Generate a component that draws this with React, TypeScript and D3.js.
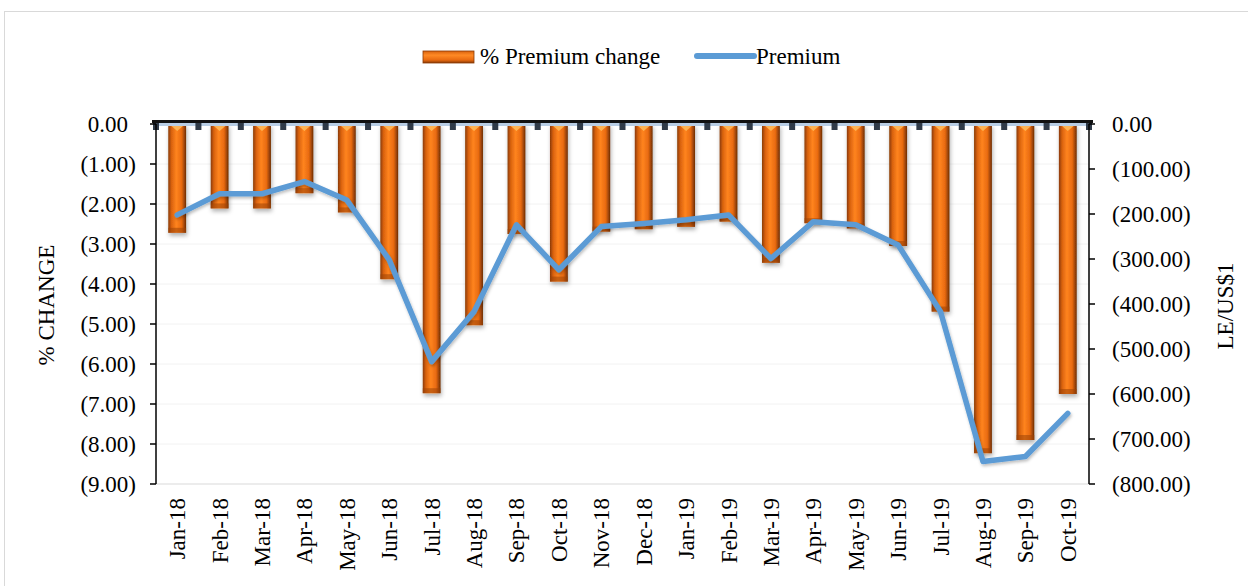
import React from 'react';
import * as d3 from 'd3';

const months = ['Jan-18', 'Feb-18', 'Mar-18', 'Apr-18', 'May-18', 'Jun-18', 'Jul-18', 'Aug-18', 'Sep-18', 'Oct-18', 'Nov-18', 'Dec-18',
    'Jan-19', 'Feb-19', 'Mar-19', 'Apr-19', 'May-19', 'Jun-19', 'Jul-19', 'Aug-19', 'Sep-19', 'Oct-19'];
// % premium change (bars, left axis)
const pctChange = [-2.72, -2.11, -2.11, -1.73, -2.21, -3.88, -6.73, -5.03, -2.75, -3.94, -2.69, -2.63,
    -2.57, -2.44, -3.47, -2.48, -2.61, -3.05, -4.69, -8.23, -7.9, -6.75];
// premium LE/US$1 (line, right axis)
const premium = [-202, -155, -155, -128, -169, -302, -528, -417, -224, -324, -228, -221,
    -213, -202, -299, -217, -224, -269, -417, -750, -739, -643];
const leftTicks = [0, -1, -2, -3, -4, -5, -6, -7, -8, -9];
const rightTicks = [0, -100, -200, -300, -400, -500, -600, -700, -800];

const W = 1248, H = 586;
const FONT = '"Liberation Serif", "Times New Roman", serif';

const fmt = (v: number) => (v < 0 ? `(${Math.abs(v).toFixed(2)})` : v.toFixed(2));

export default function App() {
    const left = 156, right = 1089, top = 124, bottom = 484;

    const x = d3.scaleBand<string>().domain(months).range([left, right]).paddingInner(0.58).paddingOuter(0.29);
    const step = x.step();
    const yL = d3.scaleLinear().domain([0, -9]).range([top, bottom]);
    const yR = d3.scaleLinear().domain([0, -800]).range([top, bottom]);

    const cx = (m: string) => (x(m) ?? 0) + x.bandwidth() / 2;
    const linePath = d3.line<number>()
        .x((_, i) => cx(months[i]))
        .y(d => yR(d))(premium) ?? '';

    const bw = x.bandwidth();

    return (
        <div style={{ position: 'absolute', left: 0, top: 0 }}>
            <svg width={W} height={H} style={{ display: 'block', fontFamily: FONT }}>
                <defs>
                    <linearGradient id="barGrad" x1="0" x2="1" y1="0" y2="0">
                        <stop offset="0%" stopColor="#8a3a05" />
                        <stop offset="18%" stopColor="#d9620e" />
                        <stop offset="45%" stopColor="#ff841f" />
                        <stop offset="75%" stopColor="#e86a10" />
                        <stop offset="100%" stopColor="#6e2d03" />
                    </linearGradient>
                    <linearGradient id="legGrad" x1="0" x2="0" y1="0" y2="1">
                        <stop offset="0%" stopColor="#d9620e" />
                        <stop offset="35%" stopColor="#ff8a25" />
                        <stop offset="75%" stopColor="#e86a10" />
                        <stop offset="100%" stopColor="#8a3a05" />
                    </linearGradient>
                    <filter id="shadow" x="-50%" y="-10%" width="200%" height="130%">
                        <feDropShadow dx="1" dy="3" stdDeviation="2" floodColor="#000" floodOpacity="0.3" />
                    </filter>
                    <filter id="lineShadow" x="-10%" y="-10%" width="120%" height="130%">
                        <feDropShadow dx="1" dy="2" stdDeviation="1.5" floodColor="#000" floodOpacity="0.25" />
                    </filter>
                </defs>

                {/* outer chart frame */}
                <rect x={4.5} y={11.5} width={1300} height={700} fill="#fff" stroke="#d9d9d9" strokeWidth={1} />

                {/* faint gridlines */}
                {leftTicks.map(t => (
                    <line key={t} x1={left} x2={right} y1={yL(t)} y2={yL(t)}
                        stroke={t === -9 ? '#d9d9d9' : '#f2f2f2'} strokeWidth={1} />
                ))}

                {/* bars */}
                {months.map((m, i) => {
                    const bx = x(m) ?? 0;
                    const by = yL(pctChange[i]);
                    return (
                        <g key={m}>
                            <rect x={bx} y={top} width={bw} height={by - top} fill="url(#barGrad)" filter="url(#shadow)" />
                            <rect x={bx} y={by - 5} width={bw} height={5} fill="#9c4308" opacity={0.55} />
                            <polygon points={`${bx + 2},${top + 1} ${bx + bw - 2},${top + 1} ${bx + bw / 2},${top + 7}`}
                                fill="#ffc060" opacity={0.8} />
                        </g>
                    );
                })}

                {/* category axis at zero (top) */}
                <rect x={left} y={122.5} width={right - left} height={3.5} fill="#b8cde4" />
                <line x1={left - 4} x2={right + 4} y1={121.5} y2={121.5} stroke="#111" strokeWidth={3} />
                {d3.range(months.length + 1).map(k => (
                    <rect key={k} x={left + k * step - 3} y={123} width={6} height={7} fill="#2f3a48" />
                ))}

                {/* premium line */}
                <path d={linePath} fill="none" stroke="#5b9bd5" strokeWidth={5.5}
                    strokeLinejoin="round" strokeLinecap="round" filter="url(#lineShadow)" />

                {/* left axis */}
                <line x1={left} x2={left} y1={top} y2={bottom} stroke="#000" strokeWidth={1.5} />
                {leftTicks.map(t => (
                    <g key={t}>
                        <line x1={left - 6} x2={left} y1={yL(t)} y2={yL(t)} stroke="#000" strokeWidth={1.5} />
                        <text x={t === 0 ? 128 : 136} y={yL(t)} dy="0.35em" textAnchor="end" fontSize={23} fill="#000">
                            {fmt(t)}
                        </text>
                    </g>
                ))}
                <text transform="translate(54,305) rotate(-90)" textAnchor="middle" fontSize={23} fill="#000">% CHANGE</text>

                {/* right axis */}
                <line x1={right} x2={right} y1={top} y2={bottom} stroke="#000" strokeWidth={1.5} />
                {rightTicks.map(t => (
                    <g key={t}>
                        <line x1={right} x2={right + 6} y1={yR(t)} y2={yR(t)} stroke="#000" strokeWidth={1.5} />
                        <text x={1112} y={yR(t)} dy="0.35em" textAnchor="start" fontSize={23} fill="#000">
                            {fmt(t)}
                        </text>
                    </g>
                ))}
                <text transform="translate(1233,306) rotate(-90)" textAnchor="middle" fontSize={23} fill="#000">LE/US$1</text>

                {/* x labels */}
                {months.map(m => (
                    <text key={m} transform={`translate(${cx(m) + 8},498) rotate(-90)`} textAnchor="end"
                        fontSize={23} fill="#000">{m}</text>
                ))}

                {/* legend */}
                <rect x={423} y={51} width={51} height={12} fill="url(#legGrad)" stroke="#8a3a05" strokeWidth={0.8} />
                <text x={480} y={64} fontSize={23} fill="#000">% Premium change</text>
                <line x1={697} x2={754} y1={56} y2={56} stroke="#5b9bd5" strokeWidth={6} strokeLinecap="round" />
                <text x={756} y={64} fontSize={23} fill="#000">Premium</text>
            </svg>
        </div>
    );
}
